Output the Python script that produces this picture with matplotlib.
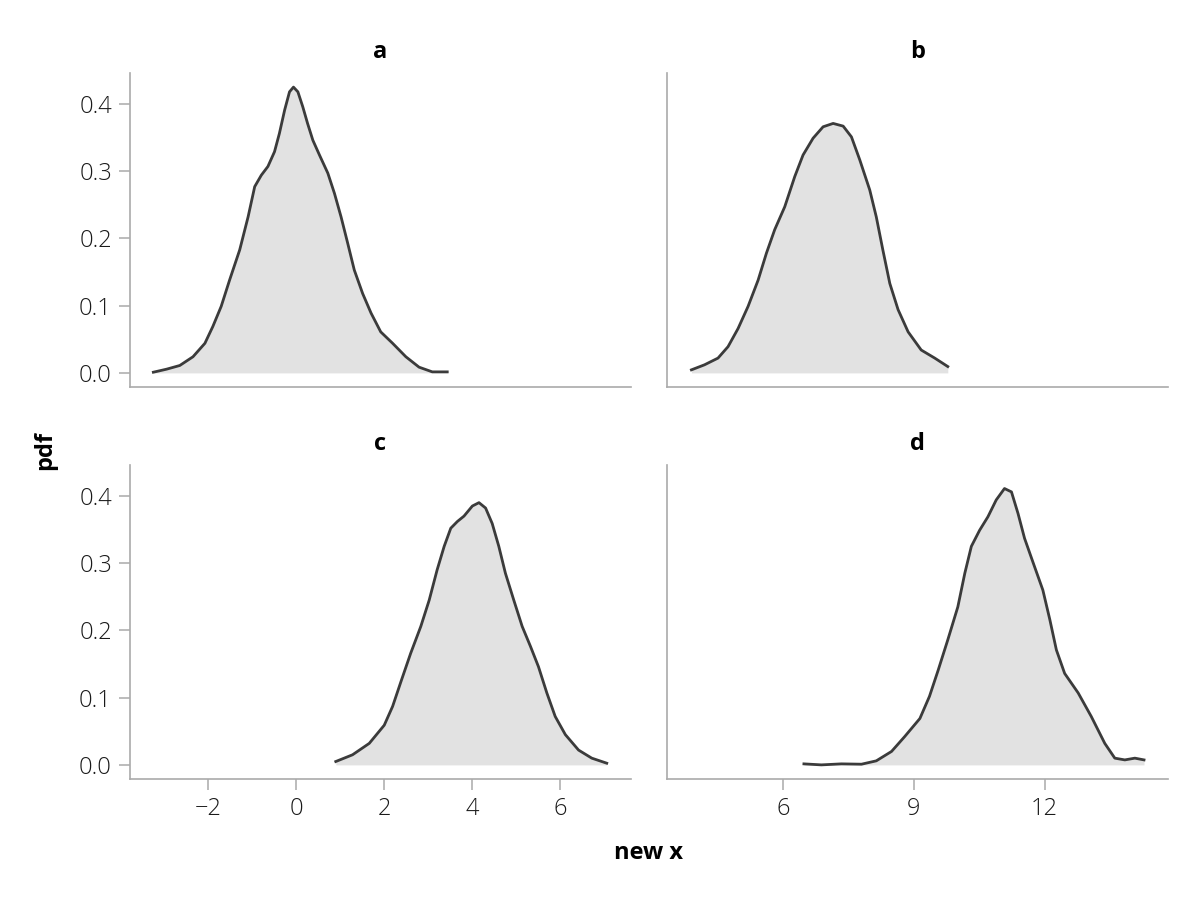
import matplotlib.pyplot as plt

# density curves, one facet each
a_x = [-3.24, -2.94, -2.64, -2.34, -2.07, -1.89, -1.70, -1.51, -1.28, -1.09, -0.94,
       -0.79, -0.64, -0.49, -0.38, -0.26, -0.15, -0.06, 0.04, 0.15, 0.26, 0.38, 0.53,
       0.72, 0.87, 1.02, 1.17, 1.32, 1.51, 1.70, 1.92, 2.19, 2.49, 2.79, 3.09, 3.43]
a_y = [0.001, 0.0055, 0.011, 0.024, 0.044, 0.069, 0.099, 0.138, 0.183, 0.232, 0.277,
       0.294, 0.307, 0.329, 0.356, 0.391, 0.418, 0.425, 0.418, 0.396, 0.371, 0.346, 0.324,
       0.297, 0.267, 0.232, 0.193, 0.153, 0.118, 0.089, 0.061, 0.044, 0.024, 0.0085, 0.0015,
       0.0015]

b_x = [3.90, 4.20, 4.51, 4.74, 4.97, 5.20, 5.43, 5.62, 5.81, 6.04, 6.27, 6.46, 6.69,
       6.92, 7.15, 7.38, 7.57, 7.76, 7.99, 8.14, 8.29, 8.45, 8.64, 8.87, 9.17, 9.48, 9.78]
b_y = [0.0045, 0.012, 0.022, 0.039, 0.066, 0.099, 0.138, 0.178, 0.213, 0.247, 0.292,
       0.324, 0.349, 0.366, 0.371, 0.367, 0.351, 0.317, 0.272, 0.232, 0.183, 0.133, 0.094,
       0.061, 0.034, 0.022, 0.0094]

c_x = [0.90, 1.28, 1.66, 2.00, 2.19, 2.38, 2.60, 2.83, 3.02, 3.20, 3.36, 3.51, 3.66,
       3.81, 4.00, 4.15, 4.30, 4.45, 4.60, 4.75, 4.94, 5.13, 5.32, 5.50, 5.69, 5.88,
       6.11, 6.41, 6.71, 7.05]
c_y = [0.005, 0.015, 0.032, 0.059, 0.087, 0.124, 0.166, 0.206, 0.245, 0.290, 0.325,
       0.352, 0.362, 0.370, 0.385, 0.390, 0.382, 0.359, 0.325, 0.285, 0.245, 0.206, 0.176,
       0.146, 0.107, 0.072, 0.045, 0.022, 0.010, 0.0025]

d_x = [6.48, 6.88, 7.34, 7.80, 8.14, 8.49, 8.79, 9.14, 9.36, 9.56, 9.78, 10.01, 10.17,
       10.32, 10.51, 10.70, 10.89, 11.08, 11.24, 11.39, 11.54, 11.73, 11.96, 12.12, 12.27,
       12.46, 12.77, 13.07, 13.38, 13.61, 13.84, 14.07, 14.28]
d_y = [0.0015, 0.0, 0.0015, 0.001, 0.006, 0.020, 0.042, 0.069, 0.102, 0.141, 0.186, 0.235,
       0.285, 0.325, 0.349, 0.369, 0.394, 0.411, 0.406, 0.374, 0.337, 0.302, 0.260, 0.216,
       0.171, 0.136, 0.107, 0.072, 0.032, 0.010, 0.0074, 0.010, 0.0074]

panels = ["a", "b", "c", "d"]
curves = [(a_x, a_y), (b_x, b_y), (c_x, c_y), (d_x, d_y)]
left_ticks = [-2, 0, 2, 4, 6]
right_ticks = [6, 9, 12]
y_ticks = [0.0, 0.1, 0.2, 0.3, 0.4]

plt.rcParams['font.family'] = ['Open Sans', 'DejaVu Sans']

spine_col = '#aaaaaa'
fig = plt.figure(figsize=(12, 9), dpi=100)

lefts = [130 / 1200, 667 / 1200]
bottoms = [1 - 387 / 900, 1 - 779 / 900]
w = 501 / 1200
h = 314 / 900

for i, name in enumerate(panels):
    row, col = divmod(i, 2)
    ax = fig.add_axes([lefts[col], bottoms[row], w, h])
    x, y = curves[i]
    ax.fill_between(x, 0, y, color='#e2e2e2', lw=0)
    ax.plot(x, y, color='#3b3b3b', lw=2.0, solid_joinstyle='round')

    if col == 0:
        ax.set_xlim(-3.77, 7.6)
    else:
        ax.set_xlim(3.34, 14.83)
    ax.set_ylim(-0.021, 0.446)

    for s in ['top', 'right']:
        ax.spines[s].set_visible(False)
    for s in ['left', 'bottom']:
        ax.spines[s].set_color(spine_col)
        ax.spines[s].set_linewidth(1.2)

    ax.tick_params(colors=spine_col, length=8, width=1.1, labelcolor='#1a1a1a',
                   labelsize=17, pad=5)

    if row == 1:
        ax.set_xticks(left_ticks if col == 0 else right_ticks)
    else:
        ax.set_xticks([])
    if col == 0:
        ax.set_yticks(y_ticks)
        ax.set_yticklabels([f"{v:.1f}" for v in y_ticks])
    else:
        ax.set_yticks([])
    for lab in ax.get_xticklabels() + ax.get_yticklabels():
        lab.set_fontweight('light')

    ax.set_title(name, fontsize=17, fontweight='bold', pad=11)

fig.text(0.54, 1 - 853 / 900, 'new x', ha='center', va='center',
         fontsize=17, fontweight='bold')
fig.text(45 / 1200, 0.5, 'pdf', ha='center', va='center', rotation=90,
         fontsize=17, fontweight='bold')

fig.savefig('out.png', dpi=100)
